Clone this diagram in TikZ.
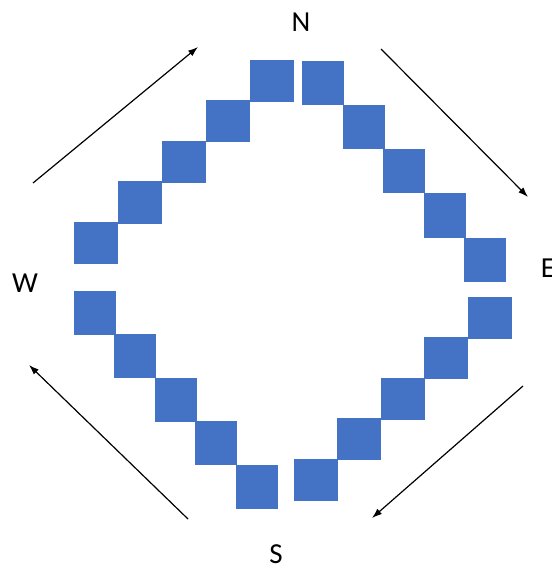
\documentclass[tikz,border=0pt]{standalone}
\usepackage{fontspec}
\setmainfont{Carlito}
\usepackage{tikz}
\usetikzlibrary{arrows.meta}
\definecolor{tileblue}{HTML}{4472C4}

\begin{document}
\begin{tikzpicture}[
  x=1pt, y=-1pt,
  wide/.style={draw=none, fill=tileblue, inner sep=0, minimum width=44pt, minimum height=42pt},
  tall/.style={draw=none, fill=tileblue, inner sep=0, minimum width=42pt, minimum height=44pt},
  dir/.style={inner sep=0, font=\fontsize{29}{34}\selectfont},
  flow/.style={draw, line width=1.2pt, -{Latex[length=10pt, width=7pt]}}
]
\useasboundingbox (0,0) rectangle (551,569);
\foreach \i in {0,...,4} {
  \node[wide] (nw\i) at ({96+44*\i},{243-40.5*\i}) {};
  \node[tall] (ne\i) at ({323+40.5*\i},{83.5+44*\i}) {};
  \node[wide] (se\i) at ({490-43.6*\i},{318+40.4*\i}) {};
  \node[tall] (sw\i) at ({94.5+40.5*\i},{313+43.4*\i}) {};
}
\node[dir] (north) at (301,22)  {N};
\node[dir] (east)  at (548,268) {E};
\node[dir] (south) at (276,554) {S};
\node[dir] (west)  at (25,283)  {W};
\coordinate (nwA) at (33,183);  \coordinate (nwB) at (198,47);
\coordinate (neA) at (381,49);  \coordinate (neB) at (528,197);
\coordinate (seA) at (523,386); \coordinate (seB) at (372,518);
\coordinate (swA) at (188,519); \coordinate (swB) at (29,365);
\draw[flow] (nwA) -- (nwB);
\draw[flow] (neA) -- (neB);
\draw[flow] (seA) -- (seB);
\draw[flow] (swA) -- (swB);
\end{tikzpicture}
\end{document}
